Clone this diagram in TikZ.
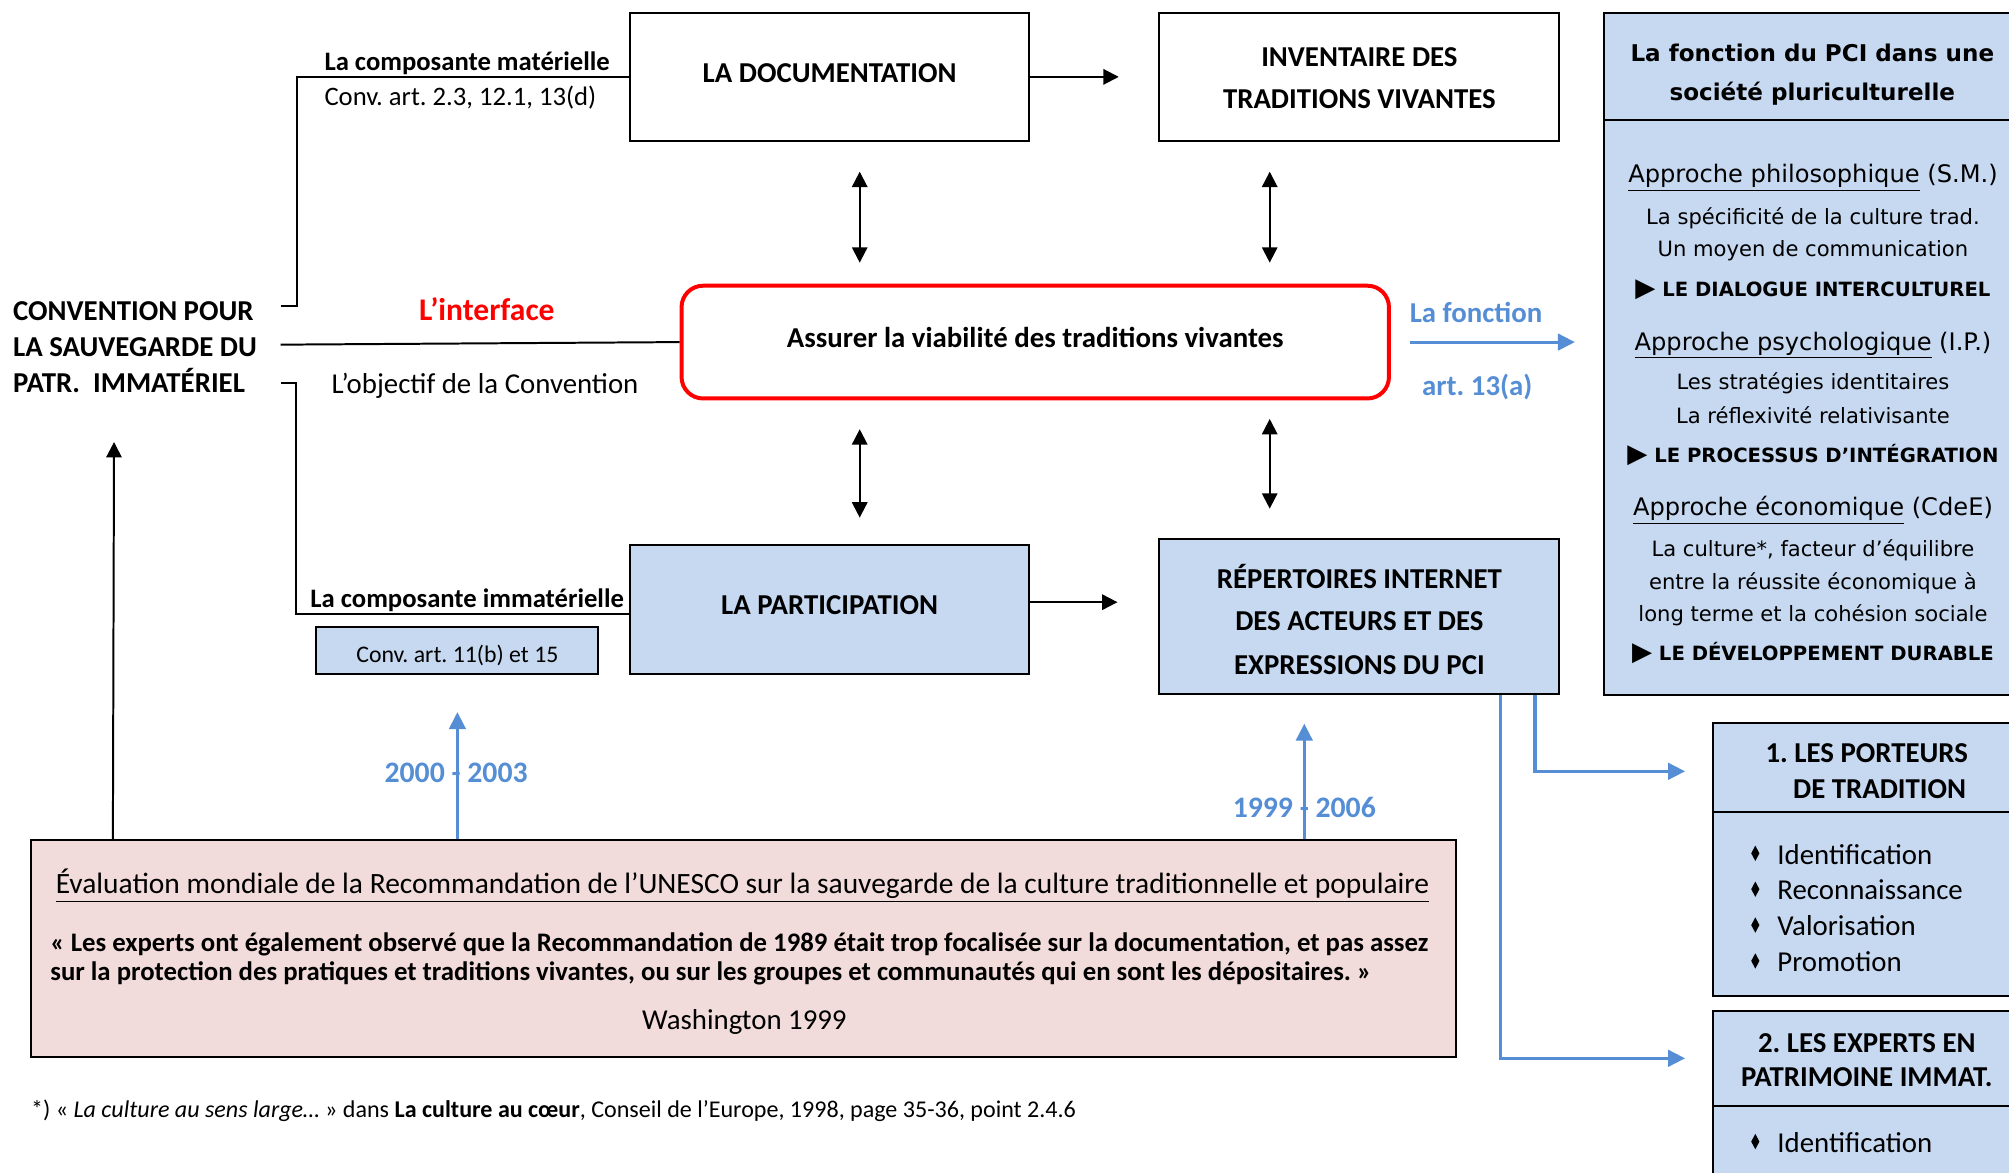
\documentclass[tikz,border=0pt]{standalone}
\usepackage{fontspec}
\setmainfont{Carlito}
\newfontfamily\vfont{DejaVu Sans}
\usetikzlibrary{arrows.meta,calc}
\definecolor{lblue}{RGB}{198,217,241}
\definecolor{lpink}{RGB}{242,220,219}
\definecolor{tblue}{RGB}{85,142,213}
\definecolor{tred}{RGB}{255,0,0}
\frenchspacing
\newcommand{\bigtri}{{\fontsize{14.5}{13}\selectfont ▶}}
\begin{document}
\begin{tikzpicture}[x=0.025cm,y=-0.025cm,
  ln/.style={line width=1.1pt, draw=black},
  bx/.style={draw=black, line width=1.1pt, inner sep=0pt},
  arr/.style={ln, -{Triangle[length=0.3cm,width=0.3cm]}},
  darr/.style={ln, {Triangle[length=0.3cm,width=0.3cm]}-{Triangle[length=0.3cm,width=0.3cm]}},
  bar/.style={draw=tblue, line width=1.7pt, -{Triangle[length=0.33cm,width=0.32cm]}},
  tx/.style={inner sep=0pt, anchor=mid, yshift=-0.125cm},
  txw/.style={inner sep=0pt, anchor=mid west, yshift=-0.125cm},
  f16/.style={font=\fontsize{16}{19}\selectfont},
  f16b/.style={font=\fontsize{16}{19}\selectfont\bfseries},
  f145/.style={font=\fontsize{14.8}{17}\selectfont},
  f145b/.style={font=\fontsize{14.8}{17}\selectfont\bfseries},
  vhead/.style={font=\vfont\fontsize{12.8}{15}\selectfont\bfseries},
  vappr/.style={font=\vfont\fontsize{13.4}{16}\selectfont},
  vbody/.style={font=\vfont\fontsize{11.7}{14}\selectfont},
  vbold/.style={font=\vfont\fontsize{10.9}{13}\selectfont\bfseries}
]
\useasboundingbox (0,0) rectangle (1568,915.5);
\clip (0,0) rectangle (1568,915.5);

% ---------- boxes ----------
\node[bx, minimum width=7.775cm, minimum height=2.5cm] (doc) at (647.5,60) {};
\node[bx, minimum width=7.8cm, minimum height=2.5cm] (inv) at (1061,60) {};
\node[draw=tred, line width=2.2pt, rounded corners=0.42cm, minimum width=13.8cm, minimum height=2.2cm, inner sep=0pt] (red) at (808,267) {};
\node[bx, fill=lblue, minimum width=7.775cm, minimum height=2.525cm] (part) at (647.5,475.5) {};
\node[bx, fill=lblue, minimum width=5.5cm, minimum height=0.925cm] (c11) at (357,507.5) {};
\node[bx, fill=lblue, minimum width=7.8cm, minimum height=3.025cm] (rep) at (1061,481.5) {};
\node[bx, fill=lblue, minimum width=8.125cm, minimum height=2.075cm] (rhead) at (1414.5,52) {};
\node[bx, fill=lblue, minimum width=8.125cm, minimum height=11.2125cm] (rbody) at (1414.5,317.75) {};
\node[bx, fill=lblue, minimum width=6cm, minimum height=1.75cm] (b1head) at (1457,599) {};
\node[bx, fill=lblue, minimum width=6cm, minimum height=3.5875cm] (b1body) at (1457,705.75) {};
\node[bx, fill=lblue, minimum width=6cm, minimum height=1.85cm] (b2head) at (1457,826) {};
\node[bx, fill=lblue, minimum width=6cm, minimum height=1.8cm] (b2body) at (1457,899) {};
\node[bx, fill=lpink, minimum width=27.8cm, minimum height=4.225cm] (pink) at (580,740.5) {};

% ---------- left texts ----------
\node[txw, f16b] (cv1) at (10,242) {CONVENTION POUR};
\node[txw, f16b] (cv2) at (10,270) {LA SAUVEGARDE DU};
\node[txw, f16b] (cv3) at (10,298) {PATR.\ \ IMMATÉRIEL};

\node[txw, f145b] (lmat) at (253,46.5) {La composante matérielle};
\node[txw, f145] (lmatart) at (253,74) {Conv. art. 2.3, 12.1, 13(d)};
\node[tx, font=\fontsize{17.5}{20}\selectfont\bfseries, text=tred] (linter) at (380,242) {L’interface};
\node[txw, f16] (lobj) at (258.5,299) {L’objectif de la Convention};
\node[txw, f145b] (limm) at (242,466) {La composante immatérielle};
\node[tx, font=\fontsize{13.2}{15}\selectfont] (c11t) at (357,508.5) {Conv. art. 11(b) et 15};

% ---------- box texts ----------
\node[tx, f16b] (doct) at (647.5,56) {LA DOCUMENTATION};
\node[tx, f16b] (inv1) at (1061,43.5) {INVENTAIRE DES};
\node[tx, f16b] (inv2) at (1061,76.5) {TRADITIONS VIVANTES};
\node[tx, f16b] (redt) at (808,263) {Assurer la viabilité des traditions vivantes};
\node[tx, f16b] (partt) at (647.5,471) {LA PARTICIPATION};
\node[tx, f16b] (rep1) at (1061,451) {RÉPERTOIRES INTERNET};
\node[tx, f16b] (rep2) at (1061,484) {DES ACTEURS ET DES};
\node[tx, f16b] (rep3) at (1061,517.7) {EXPRESSIONS DU PCI};
\node[tx, f16b, text=tblue] (lfonc) at (1152,243) {La fonction};
\node[tx, f16b, text=tblue] (lart) at (1153,300) {art. 13(a)};

% ---------- right box ----------
\node[tx, vhead] (rh1) at (1414.5,39.4) {La fonction du PCI dans une};
\node[tx, vhead] (rh2) at (1414.5,69.7) {société pluriculturelle};
\node[tx, vappr] (rl1) at (1415,134) {\underline{Approche philosophique} (S.M.)};
\node[tx, vbody] (rl2) at (1415,167) {La spécificité de la culture trad.};
\node[tx, vbody] (rl3) at (1415,192) {Un moyen de communication};
\node[tx, vbold] (rl4) at (1415,223) {\bigtri{} LE DIALOGUE INTERCULTUREL};
\node[tx, vappr] (rl5) at (1415,265) {\underline{Approche psychologique} (I.P.)};
\node[tx, vbody] (rl6) at (1415,296) {Les stratégies identitaires};
\node[tx, vbody] (rl7) at (1415,322) {La réflexivité relativisante};
\node[tx, vbold] (rl8) at (1415,352.6) {\bigtri{} LE PROCESSUS D’INTÉGRATION};
\node[tx, vappr] (rl9) at (1415,394) {\underline{Approche économique} (CdeE)};
\node[tx, vbody] (rl10) at (1415,425.8) {La culture*, facteur d’équilibre};
\node[tx, vbody] (rl11) at (1415,452) {entre la réussite économique à};
\node[tx, vbody] (rl12) at (1415,477) {long terme et la cohésion sociale};
\node[tx, vbold] (rl13) at (1415,507.5) {\bigtri{} LE DÉVELOPPEMENT DURABLE};

% ---------- boxes 1 and 2 ----------
\node[tx, f16b] (b1h1) at (1457,587) {1. LES PORTEURS};
\node[tx, f16b] (b1h2) at (1467,614.5) {DE TRADITION};
\node[txw, f16] (b1i1) at (1387,666) {Identification};
\node[txw, f16] (b1i2) at (1387,694) {Reconnaissance};
\node[txw, f16] (b1i3) at (1387,722) {Valorisation};
\node[txw, f16] (b1i4) at (1387,750) {Promotion};
\node[tx, f16b] (b2h1) at (1457,813) {2. LES EXPERTS EN};
\node[tx, f16b] (b2h2) at (1457,840) {PATRIMOINE IMMAT.};
\node[txw, f16] (b2i1) at (1387,891) {Identification};
\foreach \yy in {666,694,722,750,891}
  \fill (1370,\yy-6) -- (1373.2,\yy) -- (1370,\yy+6) -- (1366.8,\yy) -- cycle;

% ---------- pink box texts ----------
\node[tx, font=\fontsize{16.35}{19}\selectfont] (ptitle) at (579.5,689) {\underline{Évaluation mondiale de la Recommandation de l’UNESCO sur la sauvegarde de la culture traditionnelle et populaire}};
\node[txw, font=\fontsize{14.85}{17}\selectfont\bfseries] (pq1) at (39,734) {« Les experts ont également observé que la Recommandation de 1989 était trop focalisée sur la documentation, et pas assez};
\node[txw, font=\fontsize{14.85}{17}\selectfont\bfseries] (pq2) at (39,757) {sur la protection des pratiques et traditions vivantes, ou sur les groupes et communautés qui en sont les dépositaires. »};
\node[tx, f16] (pw) at (581,795) {Washington 1999};
\node[txw, font=\fontsize{13.35}{15}\selectfont] (foot) at (24,864) {*) « \textit{La culture au sens large…} » dans \textbf{La culture au cœur}, Conseil de l’Europe, 1998, page 35-36, point 2.4.6};

% ---------- connectors ----------
\coordinate (k1) at (219,239);
\coordinate (k2) at (219,269);
\coordinate (k3) at (219,299);
\draw[ln] (k1) -- ++(13,0) |- (doc.west);
\draw[ln] (k2) -- (red.west);
\draw[ln] (k3) -- ++(12,0) |- ([yshift=-0.0875cm]part.west);

\draw[arr, shorten >=0.775cm] (doc.east) -- (doc.east -| inv.west);
\draw[arr, shorten >=0.8cm] ([yshift=0.1375cm]part.east) -- ([yshift=0.1375cm]part.east -| rep.west);

\coordinate (d1a) at (671,134); \coordinate (d1b) at (671,205);
\coordinate (d2a) at (991,134); \coordinate (d2b) at (991,205);
\coordinate (d3a) at (671,335); \coordinate (d3b) at (671,404);
\coordinate (d4a) at (991,327); \coordinate (d4b) at (991,397);
\draw[darr] (d1a) -- (d1b);
\draw[darr] (d2a) -- (d2b);
\draw[darr] (d3a) -- (d3b);
\draw[darr] (d4a) -- (d4b);

\draw[bar, shorten <=0.375cm, shorten >=0.55cm] (red.east) -- (red.east -| rbody.west);

\coordinate (ct) at (89,345);
\draw[arr] ([xshift=1.625cm]pink.north west) -- (ct);

\draw[bar, shorten >=0.725cm] (pink.north -| c11.south) -- (c11.south);
\path ([xshift=-1.075cm]rep.south) coordinate (r3);
\draw[bar, shorten >=0.55cm] (r3 |- pink.north) -- (r3);

\path ([xshift=3.425cm]rep.south) coordinate (r1);
\path ([xshift=2.75cm]rep.south) coordinate (r2);
\draw[bar, shorten >=0.525cm] (r1) |- ([yshift=-0.075cm]b1head.west);
\draw[bar, shorten >=0.525cm] (r2) |- (b2head.west);

\node[tx, font=\fontsize{16.5}{19}\selectfont\bfseries, text=tblue] (y1) at (356,602) {2000 - 2003};
\node[tx, font=\fontsize{16.5}{19}\selectfont\bfseries, text=tblue] (y2) at (1018,630) {1999 - 2006};
\end{tikzpicture}
\end{document}
